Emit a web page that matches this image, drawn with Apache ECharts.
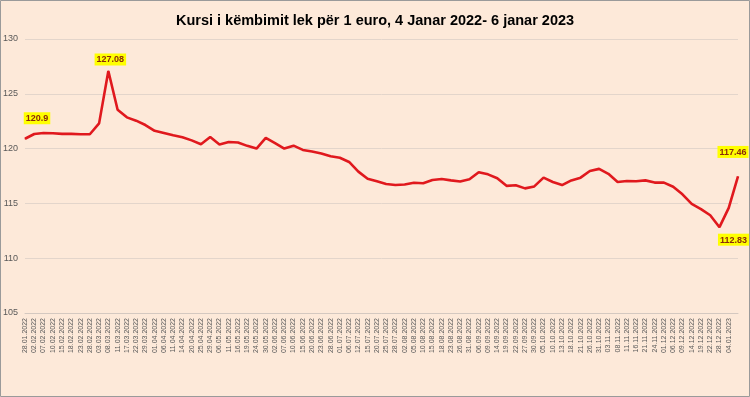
<!DOCTYPE html>
<html><head><meta charset="utf-8">
<script src="https://cdn.jsdelivr.net/npm/echarts@6/dist/echarts.min.js"></script>
<style>html,body{margin:0;padding:0;background:#fde9d9}#c{width:750px;height:397px}</style>
</head><body><div id="c"></div>
<script>
const chartTitle = 'Kursi i këmbimit lek për 1 euro, 4 Janar 2022- 6 janar 2023';
const labelDates = [
 '28.01.2022','02.02.2022','07.02.2022','10.02.2022','15.02.2022','18.02.2022','23.02.2022','28.02.2022',
 '03.03.2022','08.03.2022','11.03.2022','17.03.2022','22.03.2022','29.03.2022','01.04.2022','06.04.2022',
 '11.04.2022','14.04.2022','20.04.2022','25.04.2022','29.04.2022','06.05.2022','11.05.2022','16.05.2022',
 '19.05.2022','24.05.2022','30.05.2022','02.06.2022','07.06.2022','10.06.2022','15.06.2022','20.06.2022',
 '23.06.2022','28.06.2022','01.07.2022','06.07.2022','12.07.2022','15.07.2022','20.07.2022','25.07.2022',
 '28.07.2022','02.08.2022','05.08.2022','10.08.2022','15.08.2022','18.08.2022','23.08.2022','26.08.2022',
 '31.08.2022','06.09.2022','09.09.2022','14.09.2022','19.09.2022','22.09.2022','27.09.2022','30.09.2022',
 '05.10.2022','10.10.2022','13.10.2022','18.10.2022','21.10.2022','26.10.2022','31.10.2022','03.11.2022',
 '08.11.2022','11.11.2022','16.11.2022','21.11.2022','24.11.2022','01.12.2022','06.12.2022','09.12.2022',
 '14.12.2022','19.12.2022','22.12.2022','28.12.2022','04.01.2023'
];
const lastDate = '06.01.2023';
const rates = [
 120.9,121.33,121.43,121.40,121.34,121.34,121.31,121.31,
 122.3,127.08,123.55,122.85,122.55,122.15,121.62,121.43,
 121.22,121.04,120.75,120.4,121.05,120.38,120.6,120.55,
 120.25,120.0,120.97,120.5,120.0,120.27,119.88,119.73,
 119.55,119.3,119.17,118.78,117.9,117.25,117.02,116.77,
 116.68,116.72,116.88,116.84,117.14,117.22,117.1,117.0,
 117.2,117.85,117.65,117.3,116.6,116.65,116.37,116.55,
 117.35,116.95,116.67,117.1,117.35,117.96,118.15,117.7,
 116.96,117.05,117.02,117.1,116.9,116.9,116.52,115.83,
 114.95,114.48,113.92,112.83,114.59,117.46
];
const yMin = 105, yMax = 130, yStep = 5;

const categories = labelDates.concat([lastDate]);
const iMax = rates.indexOf(Math.max(...rates));
const iMin = rates.indexOf(Math.min(...rates));
const iLast = rates.length - 1;
const labelBase = {show:true, backgroundColor:'#ffff00', color:'#8a2a0a', fontWeight:'bold',
  fontSize:9, fontFamily:'Liberation Sans', padding:[2,2,1,2], formatter:'{c}'};
const labelCfg = {};
labelCfg[0] = Object.assign({}, labelBase, {position:'top', offset:[12,-9]});
labelCfg[iMax] = Object.assign({}, labelBase, {position:'top', offset:[2,0]});
labelCfg[iMin] = Object.assign({}, labelBase, {position:'bottom', offset:[14,1]});
labelCfg[iLast] = Object.assign({}, labelBase, {position:'top', offset:[-5,-13]});
const seriesData = rates.map((v,i) => labelCfg[i] ? {value:v, label:labelCfg[i]} : v);

const chart = echarts.init(document.getElementById('c'), null, {renderer:'canvas'});
chart.setOption({
  animation:false,
  backgroundColor:'#fde9d9',
  title:{text:chartTitle, left:'center', top:8,
    textStyle:{fontFamily:'Liberation Sans', fontWeight:'bold', fontSize:14.5, color:'#000'}},
  graphic:[{type:'rect', shape:{x:0.5,y:0.5,width:749,height:396},
    style:{fill:null, stroke:'#9a9a9a', lineWidth:1}, silent:true}],
  grid:{left:22, right:12, top:39, bottom:84},
  xAxis:{type:'category', data:categories, boundaryGap:false,
    axisLine:{lineStyle:{color:'#d4c8c0'}}, axisTick:{show:false},
    axisLabel:{rotate:90, fontSize:7, color:'#595959', fontFamily:'Liberation Sans', margin:5,
      interval:(i) => i < labelDates.length}},
  yAxis:{type:'value', min:yMin, max:yMax, interval:yStep,
    axisLine:{show:false}, axisTick:{show:false},
    axisLabel:{fontSize:9, color:'#595959', fontFamily:'Liberation Sans', margin:7},
    splitLine:{lineStyle:{color:'#e3d5cb'}}},
  series:[{type:'line', data:seriesData, smooth:false, symbol:'circle', symbolSize:1,
    showSymbol:true, showAllSymbol:true,
    lineStyle:{color:'#e0191e', width:2.6}, itemStyle:{color:'#e0191e'},
    emphasis:{disabled:true}}]
});
</script></body></html>
